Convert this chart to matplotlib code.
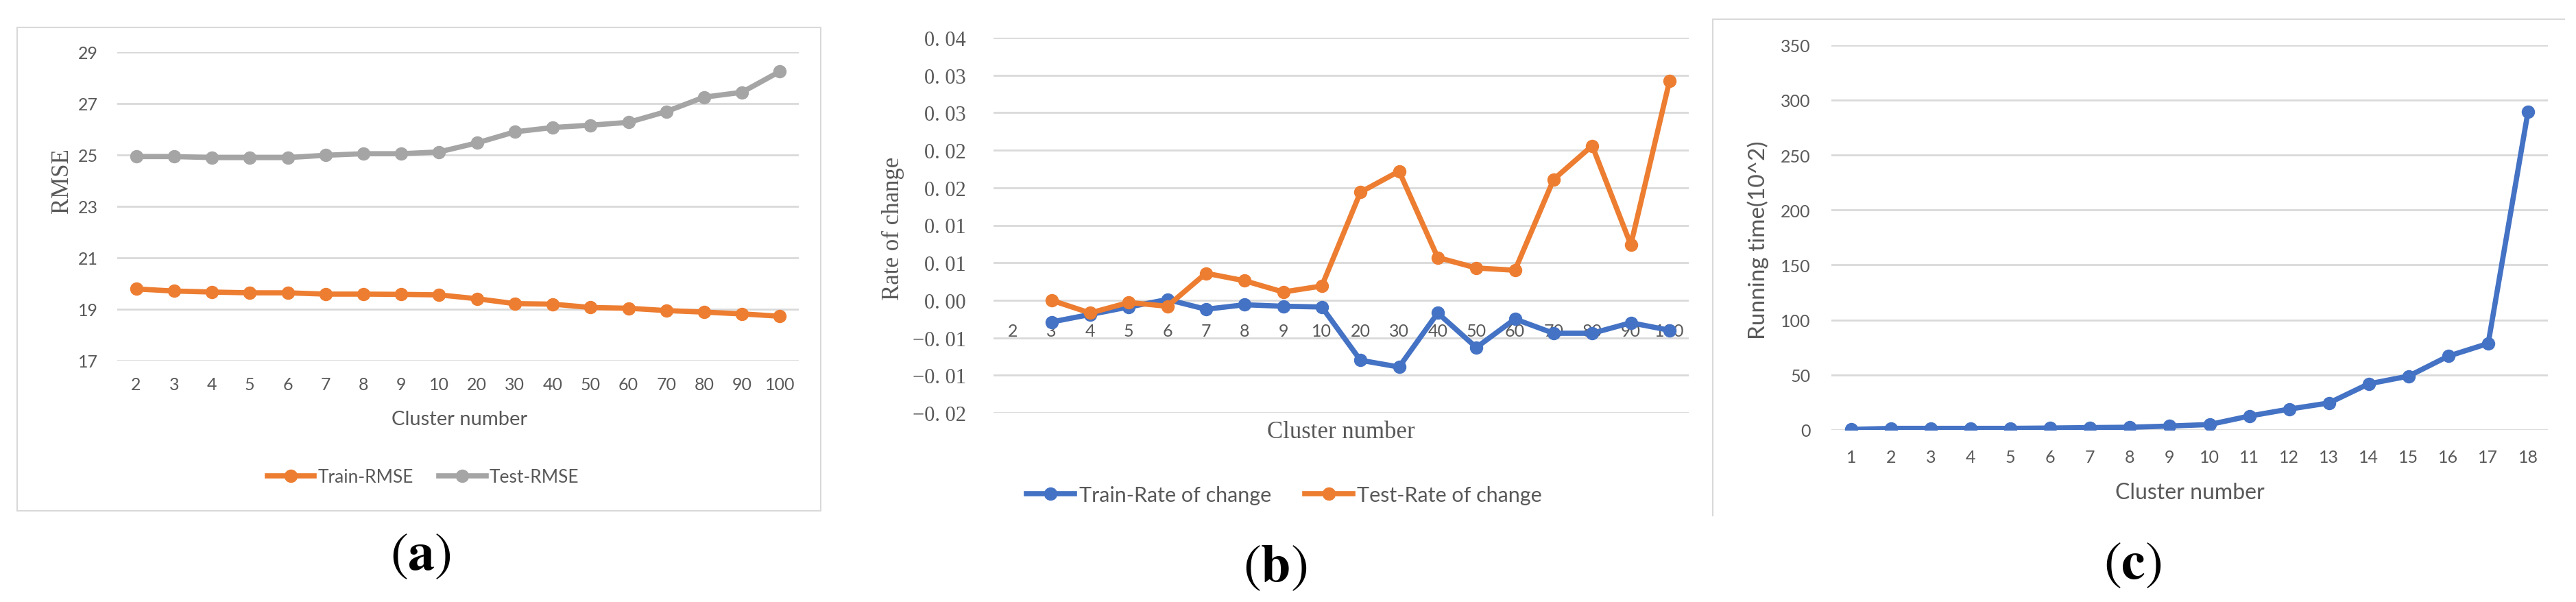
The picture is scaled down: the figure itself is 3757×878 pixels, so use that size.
"""Three Excel-style panels: RMSE vs cluster number, rate of change, running time."""
import numpy as np
import matplotlib
matplotlib.use("Agg")
import matplotlib.pyplot as plt
from matplotlib.lines import Line2D

plt.rcParams["mathtext.fontset"] = "stix"

# ---- data ----
clusters_ab = ["2", "3", "4", "5", "6", "7", "8", "9", "10",
               "20", "30", "40", "50", "60", "70", "80", "90", "100"]
train_rmse = [19.78, 19.70, 19.66, 19.63, 19.63, 19.58, 19.58, 19.57, 19.55,
              19.40, 19.21, 19.19, 19.06, 19.03, 18.94, 18.88, 18.81, 18.72]
test_rmse = [24.93, 24.93, 24.89, 24.89, 24.89, 24.98, 25.04, 25.04, 25.11,
             25.46, 25.89, 26.06, 26.15, 26.26, 26.68, 27.24, 27.43, 28.24]

train_rate = [np.nan, -0.0029, -0.0019, -0.0009, 0.0001, -0.0012, -0.0006, -0.0008, -0.0009,
              -0.0080, -0.0089, -0.0017, -0.0063, -0.0025, -0.0044, -0.0044, -0.0030, -0.0040]
test_rate = [np.nan, 0.0000, -0.0017, -0.0003, -0.0008, 0.0036, 0.0026, 0.0011, 0.0019,
             0.0144, 0.0172, 0.0057, 0.0043, 0.0040, 0.0161, 0.0206, 0.0074, 0.0292]
rate_ticks = [-0.015, -0.010, -0.005, 0.000, 0.005, 0.010, 0.015, 0.020, 0.025, 0.030, 0.035]
rate_ticklabels = ["\u22120. 02", "\u22120. 01", "\u22120. 01", "0. 00", "0. 01", "0. 01",
                   "0. 02", "0. 02", "0. 03", "0. 03", "0. 04"]

clusters_c = ["1", "2", "3", "4", "5", "6", "7", "8", "9",
              "10", "11", "12", "13", "14", "15", "16", "17", "18"]
run_time = [0.4, 1.4, 1.4, 1.4, 1.4, 1.7, 2.1, 2.4, 3.5,
            4.9, 12.6, 18.9, 24.5, 41.9, 48.9, 67.1, 78.6, 289.3]
time_ticks = [0, 50, 100, 150, 200, 250, 300, 350]

ORANGE, GRAY, BLUE = "#ED7D31", "#A5A5A5", "#4472C4"
TXT, GRID, FRAME = "#595959", "#D9D9D9", "#D9D9D9"
SANS = ["Lato", "DejaVu Sans"]
SERIF = ["Liberation Serif", "DejaVu Serif"]

W, H = 3757, 879
fig = plt.figure(figsize=(W / 100, H / 100), dpi=100)


def box(l, t, r, b):
    return [l / W, 1 - b / H, (r - l) / W, (b - t) / H]


def at(x, y):
    return x / W, 1 - y / H


def excel_axes(ax, n, xpad, ypad, xfont, yfont, xsize, ysize):
    ax.set_xlim(-0.5, n - 0.5)
    for s in ax.spines.values():
        s.set_visible(False)
    ax.set_axisbelow(True)
    ax.grid(axis="y", color=GRID, lw=2)
    ax.tick_params(length=0, colors=TXT)
    ax.tick_params(axis="x", pad=xpad)
    ax.tick_params(axis="y", pad=ypad)
    for t in ax.get_xticklabels():
        t.set_family(xfont); t.set_fontsize(xsize)
    for t in ax.get_yticklabels():
        t.set_family(yfont); t.set_fontsize(ysize)


line_kw = dict(lw=5.5, marker="o", ms=13, solid_joinstyle="round")

# ---- (a) ----
axa = fig.add_axes(box(171, 76.7, 1165, 526.7))
xa = np.arange(len(clusters_ab))
axa.plot(xa, train_rmse, color=ORANGE, label="Train-RMSE", **line_kw)
axa.plot(xa, test_rmse, color=GRAY, label="Test-RMSE", **line_kw)
axa.set_ylim(17, 29)
axa.set_yticks([17, 19, 21, 23, 25, 27, 29])
axa.set_xticks(xa, clusters_ab)
excel_axes(axa, len(clusters_ab), 17, 20, SANS, SANS, 18, 18)
fig.text(*at(670, 612), "Cluster number", ha="center", va="center", color=TXT,
         family=SANS, fontsize=21)
fig.text(*at(90, 264), "RMSE", ha="center", va="center", rotation=90, color=TXT,
         family=SERIF, fontsize=25)
axa.legend(loc="center", bbox_to_anchor=at(617, 697), bbox_transform=fig.transFigure,
           ncol=2, frameon=False, handlelength=2.6, handletextpad=0.2,
           columnspacing=1.4, labelcolor=TXT, prop={"family": SANS, "size": 19})
fig.add_artist(plt.Rectangle(at(25, 746), (1197 - 25) / W, (746 - 41) / H,
                             transform=fig.transFigure, fill=False, ec=FRAME, lw=1.5))

# ---- (b) ----
axb = fig.add_axes(box(1449, 56, 2463, 603))
xb = np.arange(len(clusters_ab))
axb.plot(xb, train_rate, color=BLUE, label="Train-Rate of change", **line_kw)
axb.plot(xb, test_rate, color=ORANGE, label="Test-Rate of change", **line_kw)
axb.set_ylim(rate_ticks[0], rate_ticks[-1])
axb.set_yticks(rate_ticks, rate_ticklabels)
axb.set_xticks(xb, clusters_ab)
axb.spines["bottom"].set_position(("data", 0))
excel_axes(axb, len(clusters_ab), 24, 29, SANS, SERIF, 18, 22)
fig.text(*at(1956, 631), "Cluster number", ha="center", va="center", color=TXT,
         family=SERIF, fontsize=25)
fig.text(*at(1302, 333), "Rate of change", ha="center", va="center", rotation=90,
         color=TXT, family=SERIF, fontsize=25)
axb.legend(loc="center", bbox_to_anchor=at(1873, 723), bbox_transform=fig.transFigure,
           ncol=2, frameon=False, handlelength=2.3, handletextpad=0.2,
           columnspacing=1.6, labelcolor=TXT, prop={"family": SANS, "size": 22})

# ---- (c) ----
axc = fig.add_axes(box(2671, 66.7, 3716, 628))
xc = np.arange(len(clusters_c))
axc.plot(xc, run_time, color=BLUE, **line_kw)
axc.set_ylim(time_ticks[0], time_ticks[-1])
axc.set_yticks(time_ticks)
axc.set_xticks(xc, clusters_c)
excel_axes(axc, len(clusters_c), 20, 22, SANS, SANS, 18, 18)
fig.text(*at(3194, 719.5), "Cluster number", ha="center", va="center", color=TXT,
         family=SANS, fontsize=23)
fig.text(*at(2564, 350), "Running time(10^2)", ha="center", va="center", rotation=90,
         color=TXT, family=SANS, fontsize=24)
fig.add_artist(Line2D([2498 / W, 3740 / W], [1 - 29 / H, 1 - 29 / H],
                      transform=fig.transFigure, color=FRAME, lw=1.5))
fig.add_artist(Line2D([2498 / W, 2498 / W], [1 - 29 / H, 1 - 753 / H],
                      transform=fig.transFigure, color=FRAME, lw=1.5))

# ---- panel letters ----
for lab, (px, py) in zip(["a", "b", "c"], [(613, 809), (1860, 826), (3110, 822)]):
    fig.text(*at(px, py), r"$(\mathbf{%s})$" % lab, ha="center", va="center",
             fontsize=56, color="black")

fig.savefig("out.png", dpi=100)
